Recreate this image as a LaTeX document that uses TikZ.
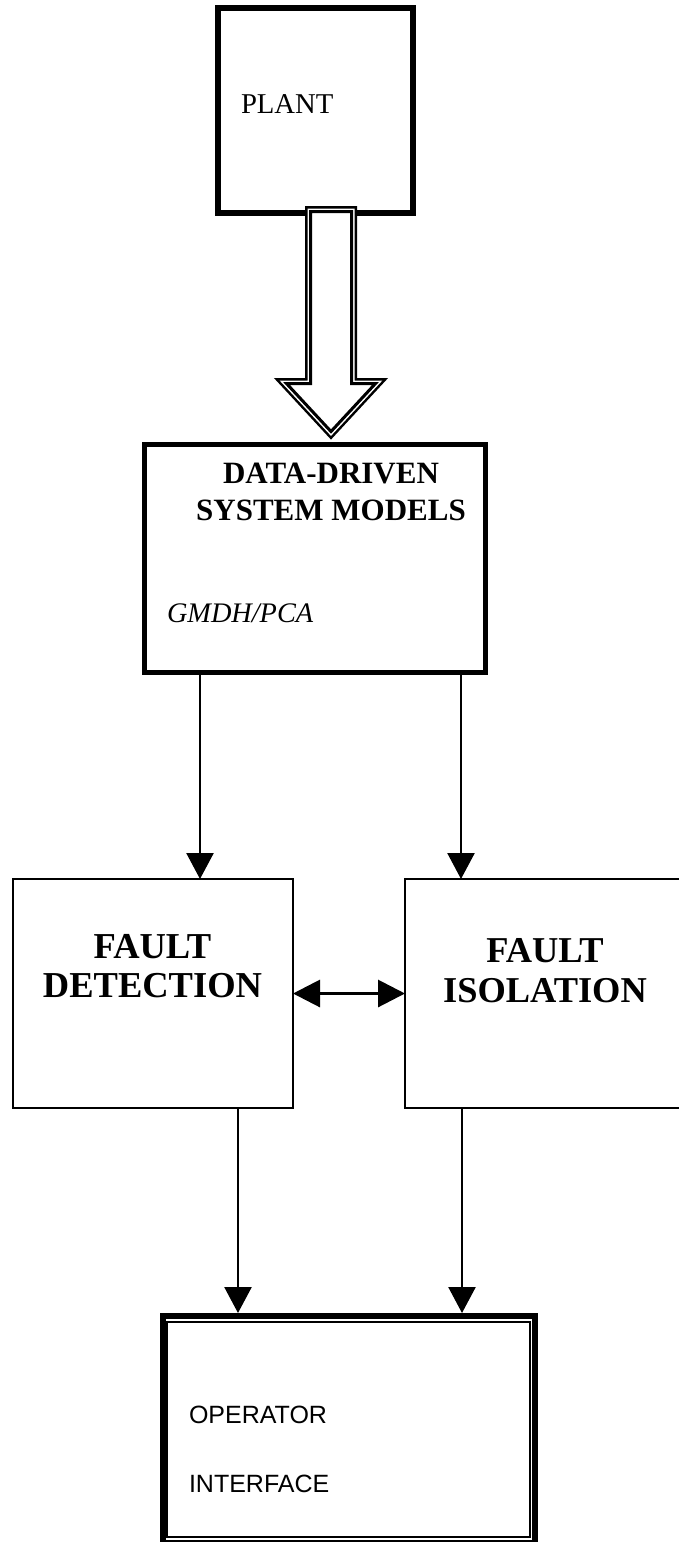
\documentclass[tikz,border=0pt]{standalone}
\usepackage{fontspec}
\setmainfont{Liberation Serif}
\setsansfont{Liberation Sans}
\usetikzlibrary{arrows.meta, calc, positioning}

\tikzset{
  box/.style={draw, rectangle, inner sep=0pt, outer sep=0pt},
  lbl/.style={inner sep=0pt, outer sep=0pt},
  flow/.style={line width=2.5pt, -{Triangle[length=26pt,width=27pt]}},
}

\begin{document}
\begin{tikzpicture}[x=1pt, y=-1pt]
\useasboundingbox (0,0) rectangle (679,1542);

% boxes
\node[box, line width=5.5pt, minimum width=195pt, minimum height=205pt] (plant) at (315.5,110.5) {};
\node[box, line width=5pt, minimum width=341pt, minimum height=228pt] (data) at (314.5,558) {};
\node[box, line width=2.5pt, minimum width=280pt, minimum height=229pt] (fd) at (153,993.5) {};
\node[box, line width=2.5pt, minimum width=280pt, minimum height=229pt] (fi) at (545,993.5) {};
\node[box, line width=6pt, minimum width=372pt, minimum height=227pt] (op) at (349,1429.5) {};
\node[box, line width=2pt, minimum width=363pt, minimum height=215pt] (opin) at (348.5,1429.5) {};

% texts (multi-line nodes sit on their last baseline)
\node[lbl, anchor=base west, font=\fontsize{28.7}{34}\selectfont] (plantlbl) at (241,113) {PLANT};
\node[lbl, anchor=base, align=center, font=\bfseries\fontsize{31}{37}\selectfont] (datalbl) at (331,520) {DATA-DRIVEN\\SYSTEM MODELS};
\node[lbl, anchor=base west, font=\itshape\fontsize{28.3}{34}\selectfont] (gmdh) at (167,622) {GMDH/PCA};
\node[lbl, anchor=base, align=center, font=\bfseries\fontsize{36.5}{39}\selectfont] (fdlbl) at (152.5,997) {FAULT\\DETECTION};
\node[lbl, anchor=base, align=center, font=\bfseries\fontsize{36.4}{40}\selectfont] (filbl) at (545,1002) {FAULT\\ISOLATION};
\node[lbl, anchor=base west, font=\sffamily\fontsize{25}{30}\selectfont] (oplbl) at (189,1423) {OPERATOR};
\node[lbl, anchor=base west, font=\sffamily\fontsize{25}{30}\selectfont] (iflbl) at (189,1492) {INTERFACE};

% hollow arrow plant -> models
\foreach \w/\c in {11/black, 6/white, 3/black}
  \draw[line width=\w pt, draw=\c, fill=white, line join=miter]
    (310.5,211.5) -- (310.5,383.5) -- (286.5,383.5) -- (331,431.5)
    -- (375.5,383.5) -- (351.5,383.5) -- (351.5,211.5) -- cycle;

% connectors
\coordinate (c1) at (200,0);
\coordinate (c2) at (461,0);
\coordinate (c3) at (238,0);
\coordinate (c4) at (462,0);
\draw[flow] (c1 |- data.south) -- (c1 |- fd.north);
\draw[flow] (c2 |- data.south) -- (c2 |- fi.north);
\draw[flow, shorten >=3pt] (c3 |- fd.south) -- (c3 |- op.north);
\draw[flow, shorten >=3pt] (c4 |- fi.south) -- (c4 |- op.north);
\draw[line width=3pt, {Triangle[length=27pt,width=27pt]}-{Triangle[length=27pt,width=27pt]}] (fd.east) -- (fi.west);

\end{tikzpicture}
\end{document}
